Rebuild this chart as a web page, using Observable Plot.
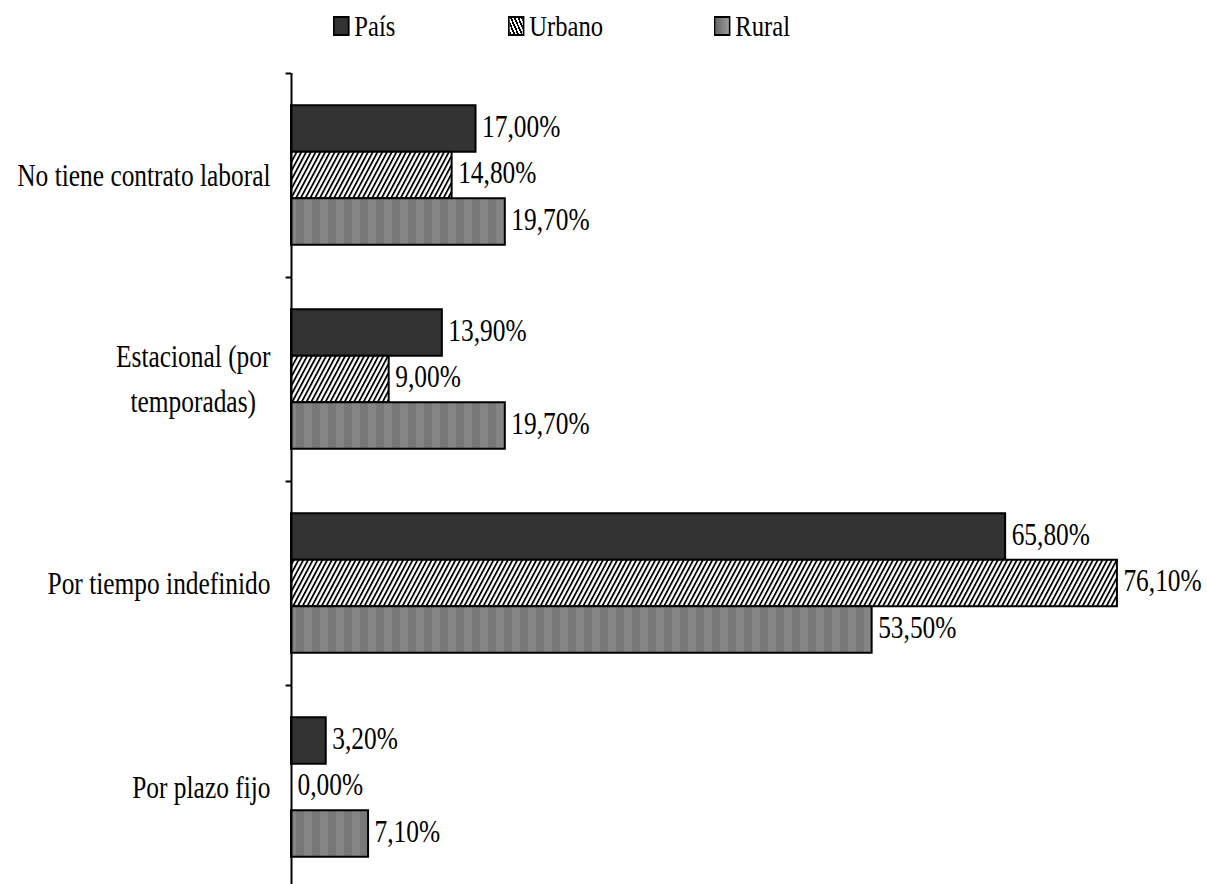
<!DOCTYPE html>
<html>
<head>
<meta charset="utf-8">
<script src="https://cdn.jsdelivr.net/npm/d3@7"></script>
<script src="https://cdn.jsdelivr.net/npm/@observablehq/plot@0.6"></script>
<style>
  html, body { margin: 0; padding: 0; background: #fff; overflow: hidden; }
  #legend { height: 55px; position: relative; font-family: 'Liberation Serif'; font-size: 30px; color: #000; }
  .item { position: absolute; top: 9px; display: flex; align-items: center; transform: scaleX(0.82); transform-origin: left center; font-family: 'Liberation Serif'; }
  .sw { width: 20px; height: 20px; box-sizing: border-box; border: 2px solid #000; margin-right: 6px; }
</style>
</head>
<body>
<div id="legend"></div>
<div id="chart"></div>
<script>
// ---- data ----
const categories = ["No tiene contrato laboral", "Estacional (por temporadas)", "Por tiempo indefinido", "Por plazo fijo"];
const categoryLabels = ["No tiene contrato laboral", "Estacional (por\ntemporadas)", "Por tiempo indefinido", "Por plazo fijo"];
const seriesNames = ["País", "Urbano", "Rural"];
const pais   = [17.0, 13.9, 65.8, 3.2];
const urbano = [14.8, 9.0, 76.1, 0.0];
const rural  = [19.7, 19.7, 53.5, 7.1];

const fmt = v => v.toFixed(2).replace(".", ",") + "%";
const rows = (vals, s) => categories.map((c, i) => ({category: c, series: s, value: vals[i]}));
const dPais = rows(pais, "País"), dUrb = rows(urbano, "Urbano"), dRur = rows(rural, "Rural");

const FONT = "Liberation Serif";
const bar = 46.5;           // bar thickness in px
const band = 204;           // category band in px
const outer = (band - 3 * bar) / 2;

const barStyle = {stroke: "#000", strokeWidth: 2};
const lab = (data, dy) => Plot.text(data, {x: "value", y: "category", text: d => fmt(d.value), dx: 6, dy, textAnchor: "start", fontSize: 31, fontFamily: FONT, fill: "#000"});

const chart = Plot.plot({
  width: 1207,
  height: 834,
  marginTop: 18,
  marginBottom: 0,
  marginLeft: 291,
  marginRight: 0,
  style: {fontFamily: FONT, background: "#fff"},
  x: {domain: [0, 84.4], axis: null},
  y: {domain: categories, padding: 0, axis: null},
  marks: [
    Plot.barX(dPais, {x: "value", y: "category", fill: "#333333", ...barStyle, insetTop: outer, insetBottom: band - outer - bar}),
    Plot.barX(dUrb.filter(d => d.value > 0), {x: "value", y: "category", fill: "url(#hatch)", ...barStyle, insetTop: outer + bar, insetBottom: outer + bar}),
    Plot.barX(dRur, {x: "value", y: "category", fill: "url(#stripes)", ...barStyle, insetTop: band - outer - bar, insetBottom: outer}),
    lab(dPais, -bar - 2),
    lab(dUrb, -2),
    lab(dRur, bar - 2),
    Plot.ruleX([0], {stroke: "#000", strokeWidth: 2}),
    Plot.ruleY(categories, {y: d => d, x1: -0.5, x2: 0, dy: -band / 2, stroke: "#000", strokeWidth: 2, clip: false}),
    Plot.text(categories, {y: d => d, text: (d, i) => categoryLabels[i], frameAnchor: "left", dx: -21, dy: -4, textAnchor: "end", fontSize: 31, fontFamily: FONT, lineHeight: 1.45, fill: "#000"})
  ]
});
chart.setAttribute("font-family", FONT);

// patterns
const defs = d3.select(chart).insert("defs", ":first-child");
const h = defs.append("pattern").attr("id", "hatch").attr("patternUnits", "userSpaceOnUse")
  .attr("width", 4.2).attr("height", 10).attr("patternTransform", "rotate(28)");
h.append("rect").attr("width", 4.2).attr("height", 10).attr("fill", "#fff");
h.append("rect").attr("width", 1.8).attr("height", 10).attr("fill", "#000");
const s = defs.append("pattern").attr("id", "stripes").attr("patternUnits", "userSpaceOnUse")
  .attr("width", 16).attr("height", 10);
s.append("rect").attr("width", 8).attr("height", 10).attr("fill", "#858585");
s.append("rect").attr("x", 8).attr("width", 8).attr("height", 10).attr("fill", "#787878");

document.getElementById("chart").appendChild(chart);

// condensed look: horizontally compress texts around their anchor
chart.querySelectorAll("text").forEach(t => {
  t.style.fontFamily = FONT;
  const tspans = t.querySelectorAll("tspan");
  if (tspans.length > 1) {
    const widths = Array.from(tspans).map(ts => ts.getComputedTextLength());
    const maxW = Math.max(...widths);
    t.setAttribute("text-anchor", "middle");
    tspans.forEach(ts => ts.setAttribute("x", -maxW / 2));
  }
  const tr = t.getAttribute("transform");
  if (tr) t.setAttribute("transform", tr + " scale(0.82,1)");
  else {
    const x = +t.getAttribute("x") || 0, y = +t.getAttribute("y") || 0;
    t.setAttribute("transform", `translate(${x},${y}) scale(0.82,1) translate(${-x},${-y})`);
  }
});

// legend
const legend = d3.select("#legend");
const legendX = [333, 508, 714];
const swatches = [
  "background:#333333",
  "background: repeating-linear-gradient(62deg, #000 0 2px, #fff 2px 4px)",
  "background: linear-gradient(90deg, #666, #9a9a9a)"
];
seriesNames.forEach((n, i) => {
  const it = legend.append("div").attr("class", "item").style("left", legendX[i] + "px");
  it.append("div").attr("class", "sw").attr("style", swatches[i]);
  it.append("span").text(n);
});
</script>
</body>
</html>
